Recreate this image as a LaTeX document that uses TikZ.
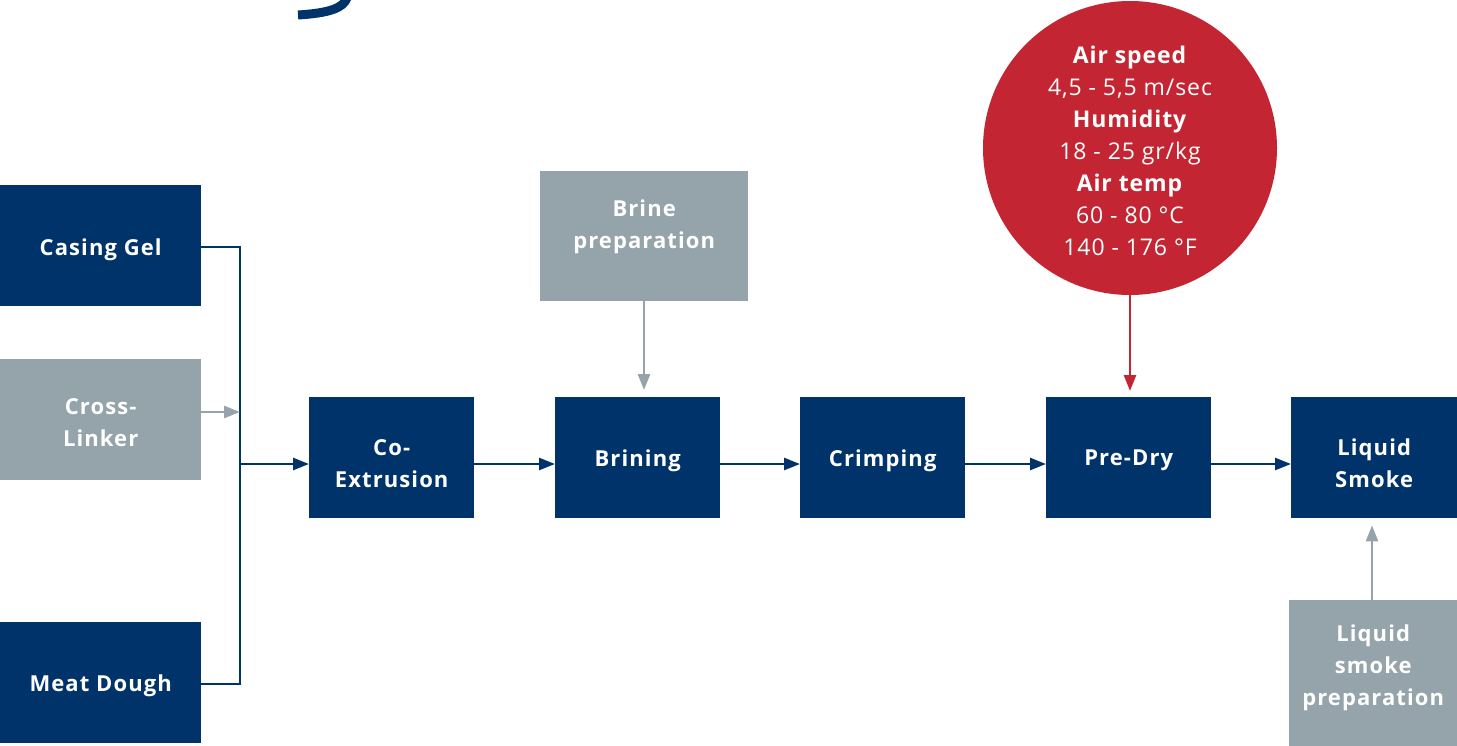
\documentclass[tikz,border=0pt]{standalone}
\usepackage{fontspec}
\setmainfont{Open Sans}
\usetikzlibrary{arrows.meta}
\definecolor{navy}{HTML}{00336A}
\definecolor{slate}{HTML}{95A3AA}
\definecolor{crimson}{HTML}{C42532}
\tikzset{
  box/.style={fill=navy, inner sep=0pt, anchor=north west},
  graybox/.style={box, fill=slate},
  lab/.style={text=white, font=\bfseries\fontsize{22}{32}\selectfont\addfontfeatures{LetterSpace=5}, align=center, inner sep=0pt},
  clab/.style={text=white, font=\fontsize{23}{32}\selectfont\addfontfeatures{LetterSpace=4}, align=center, inner sep=0pt},
  tip/.style={-{Triangle[length=16pt,width=12pt]}},
  flow/.style={draw=navy, line width=2.6pt, tip},
  gflow/.style={draw=slate, line width=2.6pt, tip},
  rflow/.style={draw=crimson, line width=2.6pt, tip},
  junction/.style={draw=navy, line width=2.6pt},
}
\begin{document}
\begin{tikzpicture}[x=1pt,y=-1pt]
\useasboundingbox (0,0) rectangle (1457,745);
% fragment of cut-off title glyph
\draw[navy, line width=9pt] (347,-2) .. controls (343,8) and (330,13) .. (298,15);
% boxes
\node[box, minimum width=201pt, minimum height=121pt,
  label={[lab,yshift=-4pt]center:Casing Gel}] (cg) at (0,185) {};
\node[graybox, minimum width=201pt, minimum height=121pt,
  label={[lab,yshift=-3pt]center:Cross-\\Linker}] (cl) at (0,359) {};
\node[box, minimum width=201pt, minimum height=121pt,
  label={[lab,yshift=-3pt]center:Meat Dough}] (md) at (0,622) {};
\node[box, minimum width=165pt, minimum height=121pt,
  label={[lab,yshift=-6pt]center:Co-\\Extrusion}] (ce) at (309,397) {};
\node[box, minimum width=165pt, minimum height=121pt,
  label={[lab,yshift=-3pt]center:Brining}] (br) at (555,397) {};
\node[box, minimum width=165pt, minimum height=121pt,
  label={[lab,yshift=-3pt]center:Crimping}] (cr) at (800,397) {};
\node[box, minimum width=165pt, minimum height=121pt,
  label={[lab,yshift=-3pt]center:Pre-Dry}] (pd) at (1046,397) {};
\node[box, minimum width=166pt, minimum height=121pt,
  label={[lab,yshift=-6pt]center:Liquid\\Smoke}] (ls) at (1291,397) {};
\node[graybox, minimum width=208pt, minimum height=130pt,
  label={[lab,yshift=9pt]center:Brine\\preparation}] (bp) at (540,171) {};
\node[graybox, minimum width=168pt, minimum height=146pt,
  label={[lab,yshift=5pt]center:Liquid\\smoke\\preparation}] (lp) at (1289,600) {};
\node[circle, fill=crimson, minimum size=294pt, inner sep=0pt,
  label={[clab,yshift=-3pt]center:\textbf{Air speed}\\4,5 - 5,5 m/sec\\\textbf{Humidity}\\18 - 25 gr/kg\\\textbf{Air temp}\\60 - 80 °C\\140 - 176 °F}] (circ) at (1130,148) {};
% junction
\coordinate (j1) at (240,247);
\coordinate (j2) at (240,684);
\coordinate (jc) at (240,412);
\coordinate (jo) at (240,464);
\draw[junction] (cg.east |- j1) -- (j1) -- (j2) -- (md.east |- j2);
\draw[gflow] (cl.east |- jc) -- (jc);
\draw[flow] (jo) -- (ce.west |- jo);
% main flow
\draw[flow] (ce.east |- jo) -- (br.west |- jo);
\draw[flow] (br.east |- jo) -- (cr.west |- jo);
\draw[flow] (cr.east |- jo) -- (pd.west |- jo);
\draw[flow] (pd.east |- jo) -- (ls.west |- jo);
% side inputs
\draw[gflow] (bp.south -| 644,0) -- ([yshift=7pt]br.north -| 644,0);
\draw[rflow] (circ.south) -- ([yshift=6pt]pd.north -| circ.south);
\draw[gflow] (lp.north -| 1372,0) -- ([yshift=-7pt]ls.south -| 1372,0);
\end{tikzpicture}
\end{document}
